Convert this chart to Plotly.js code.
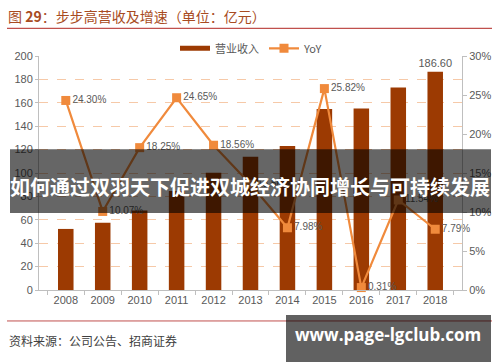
<!DOCTYPE html>
<html>
<head>
<meta charset="utf-8">
<script src="https://cdn.plot.ly/plotly-3.0.1.min.js"></script>
<style>html,body{margin:0;padding:0;background:#fff;}#chart{width:500px;height:362px;}</style>
</head>
<body>
<div id="chart"></div>
<script>
// ---- data ----
const years = ['2008','2009','2010','2011','2012','2013','2014','2015','2016','2017','2018'];
const revenue = [52.2, 57.4, 67.9, 84.6, 100.3, 113.9, 123.0, 154.7, 155.2, 173.1, 186.6];
const yoy = [24.30, 10.07, 18.25, 24.65, 18.56, 13.56, 7.98, 25.82, 0.31, 11.54, 7.79];
const leftTicks = [0, 20, 40, 60, 80, 100, 120, 140, 160, 180, 200];
const rightTicks = [0, 5, 10, 15, 20, 25, 30];
const seriesNames = ['营业收入', 'YoY'];
const chartTitle = '图 <b>29</b>：步步高营收及增速（单位：亿元）';
const sourceText = '资料来源：公司公告、招商证券';
const bannerText = '如何通过双羽天下促进双城经济协同增长与可持续发展';
const watermarkText = 'www.page-lgclub.com';

const barColor = '#9C3A02';
const lineColor = '#F08A3C';
const tickColor = '#595959';
const gridColor = '#F6C9A8';
const numFont = 'Liberation Sans, Arial, sans-serif';
const cjkFont = 'Noto Sans CJK SC, sans-serif';

// plot area in pixels
const W = 500, H = 362, L = 39, R = 462, T = 55.7, B = 290;
const px = x => (x - L) / (R - L);
const py = y => (B - y) / (B - T);

const barText = revenue.map((v, i) => i === revenue.length - 1 ? v.toFixed(2) : '');
const yoyText = yoy.map(v => v.toFixed(2) + '%');

const traces = [
  {
    type: 'bar', x: years, y: revenue, name: seriesNames[0], showlegend: false,
    marker: {color: barColor}, width: 0.42,
    text: barText, textposition: 'outside', cliponaxis: false, constraintext: 'none',
    textfont: {family: numFont, size: 11, color: tickColor},
    hoverinfo: 'skip'
  },
  {
    type: 'scatter', mode: 'lines', x: [null], y: [null], name: seriesNames[0],
    line: {color: barColor, width: 5}, showlegend: true, hoverinfo: 'skip'
  },
  {
    type: 'scatter', mode: 'lines+markers+text', x: years, y: yoy, yaxis: 'y2', name: seriesNames[1],
    line: {color: lineColor, width: 2.2},
    marker: {symbol: 'square', size: 9, color: lineColor},
    text: yoyText, textposition: 'middle right', cliponaxis: false,
    textfont: {family: numFont, size: 10, color: tickColor},
    hoverinfo: 'skip'
  }
];

const layout = {
  width: W, height: H,
  margin: {l: L, r: W - R, t: T, b: H - B, pad: 0},
  paper_bgcolor: '#fff', plot_bgcolor: '#fff',
  font: {family: numFont, size: 11, color: tickColor},
  title: {
    text: chartTitle, xref: 'container', yref: 'container',
    x: 8 / W, xanchor: 'left', y: 1 - 17 / H, yanchor: 'middle',
    font: {family: cjkFont, size: 14, color: '#A84B22'}
  },
  bargap: 0.58,
  xaxis: {
    type: 'category', showgrid: false, showline: true, linecolor: '#BFBFBF', linewidth: 1,
    ticks: 'outside', ticklen: 4, tickcolor: '#BFBFBF', tickson: 'boundaries',
    tickfont: {family: numFont, size: 11, color: tickColor}, fixedrange: true
  },
  yaxis: {
    range: [0, 200], tickvals: leftTicks, showgrid: true, gridcolor: gridColor, griddash: 'dash', gridwidth: 1,
    showline: true, linecolor: '#BFBFBF', linewidth: 1, ticks: 'outside', ticklen: 3, tickcolor: '#BFBFBF',
    zeroline: false, tickfont: {family: numFont, size: 11, color: tickColor}, fixedrange: true
  },
  yaxis2: {
    overlaying: 'y', side: 'right', range: [0, 30], tickvals: rightTicks,
    ticktext: rightTicks.map(v => v + '%'), showgrid: false, zeroline: false,
    showline: true, linecolor: '#BFBFBF', linewidth: 1, ticks: 'outside', ticklen: 4, tickcolor: '#BFBFBF',
    tickfont: {family: numFont, size: 11, color: tickColor}, fixedrange: true
  },
  legend: {
    orientation: 'h', x: px(175), xanchor: 'left', y: py(48), yanchor: 'middle',
    font: {family: cjkFont, size: 11, color: tickColor}, bgcolor: 'rgba(0,0,0,0)',
    itemwidth: 30, tracegroupgap: 0
  },
  shapes: [
    {type: 'line', xref: 'paper', yref: 'paper', x0: px(7), x1: px(492), y0: py(28), y1: py(28),
     line: {color: '#C0504D', width: 1.2}},
    {type: 'line', xref: 'paper', yref: 'paper', x0: px(7), x1: px(492), y0: py(321), y1: py(321),
     line: {color: '#C0504D', width: 1}},
    {type: 'rect', xref: 'paper', yref: 'paper', layer: 'above', x0: px(10), x1: px(491), y0: py(213), y1: py(149),
     fillcolor: 'rgba(0,0,0,0.6)', line: {width: 0}},
    {type: 'rect', xref: 'paper', yref: 'paper', layer: 'above', x0: px(286), x1: px(491), y0: py(370), y1: py(315),
     fillcolor: 'rgba(0,0,0,0.62)', line: {width: 0}}
  ],
  annotations: [
    {xref: 'paper', yref: 'paper', x: px(7), y: py(341), xanchor: 'left', yanchor: 'middle',
     text: sourceText, showarrow: false, font: {family: cjkFont, size: 12, color: '#404040'}},
    {xref: 'paper', yref: 'paper', x: px(250), y: py(186), xanchor: 'center', yanchor: 'middle',
     text: bannerText, showarrow: false, font: {family: cjkFont, size: 20, color: '#ffffff', weight: 'bold'}},
    {xref: 'paper', yref: 'paper', x: px(388), y: py(335), xanchor: 'center', yanchor: 'middle',
     text: '<b>' + watermarkText + '</b>', showarrow: false, font: {family: 'Open Sans, DejaVu Sans, sans-serif', size: 17, color: '#ffffff'}}
  ],
  showlegend: true
};

Plotly.newPlot('chart', traces, layout, {displayModeBar: false, staticPlot: true});
</script>
</body>
</html>
